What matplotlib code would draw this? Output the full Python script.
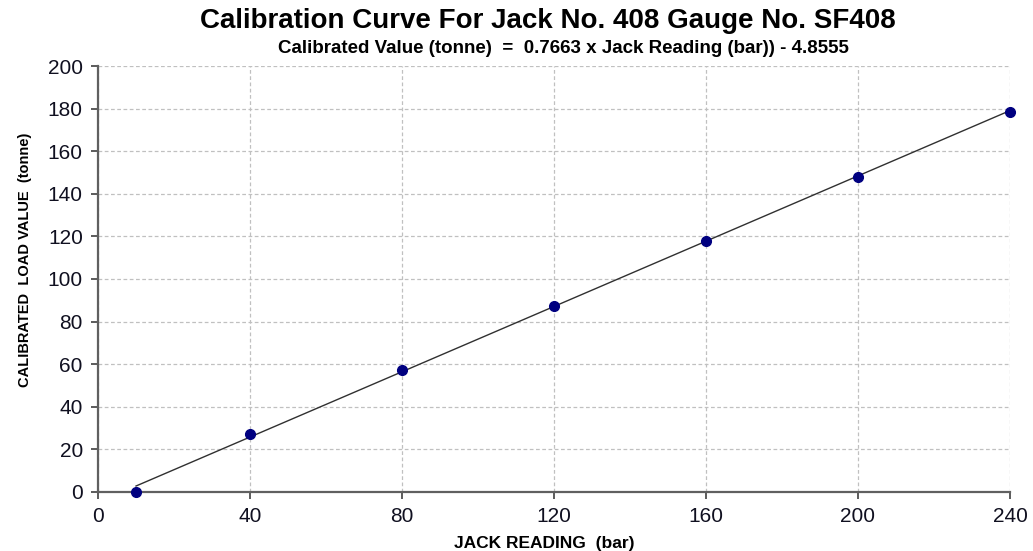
# Calibration curve for Jack No. 408

import numpy as np
import matplotlib.pyplot as plt

# Data
jack_reading = [10, 40, 80, 120, 160, 200, 240]          # bar
load_value = [0, 27, 57.5, 87.5, 118, 148, 178.5]        # tonne

# Trendline from the subtitle equation
slope = 0.7663
intercept = -4.8555

x_ticks = [0, 40, 80, 120, 160, 200, 240]
y_ticks = [0, 20, 40, 60, 80, 100, 120, 140, 160, 180, 200]

bold = ['Liberation Sans', 'DejaVu Sans']
plain = ['Liberation Sans', 'DejaVu Sans']

fig = plt.figure(figsize=(10.33, 5.51), dpi=100)
ax = fig.add_axes([0.0949, 0.1071, 0.8828, 0.7731])

xfit = np.array([min(jack_reading), max(jack_reading)])
ax.plot(xfit, slope*xfit + intercept, color='#303030', lw=1.0, zorder=3)
ax.plot(jack_reading, load_value, 'o', color='#000080', ms=7, zorder=4,
        clip_on=False)

ax.set_xlim(0, 240)
ax.set_ylim(0, 200)
ax.set_xticks(x_ticks)
ax.set_yticks(y_ticks)
ax.grid(True, color='#c0c0c0', ls='--', lw=0.9, dashes=(3, 2))
ax.set_axisbelow(True)

for s in ['top', 'right']:
    ax.spines[s].set_visible(False)
for s in ['left', 'bottom']:
    ax.spines[s].set_color('#606060')
    ax.spines[s].set_linewidth(1.6)

ax.tick_params(direction='out', length=5, width=1.2, color='#404040',
               labelsize=15, labelcolor='#101020', pad=6)
for lab in ax.get_xticklabels() + ax.get_yticklabels():
    lab.set_family(plain)

ax.set_xlabel('JACK READING  (bar)', family=bold, fontweight='bold',
              fontsize=12.5, va='center')
ax.xaxis.set_label_coords(0.489, -0.12)
ax.set_ylabel('CALIBRATED  LOAD VALUE  (tonne)', family=bold,
              fontweight='bold', fontsize=10.5)
ax.yaxis.set_label_coords(-0.072, 0.545)

fig.text(0.53, 0.962, 'Calibration Curve For Jack No. 408 Gauge No. SF408',
         family=bold, fontweight='bold', fontsize=20, ha='center', va='center')
fig.text(0.545, 0.912, 'Calibrated Value (tonne)  =  0.7663 x Jack Reading (bar)) - 4.8555',
         family=bold, fontweight='bold', fontsize=13.5, ha='center', va='center')

fig.savefig('out.png', dpi=100)
